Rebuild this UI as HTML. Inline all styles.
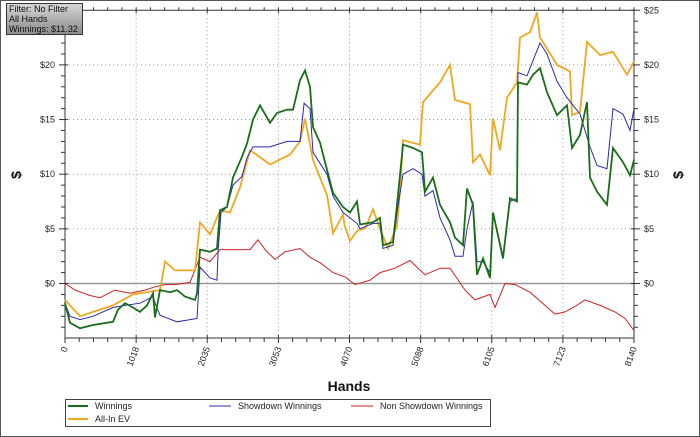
<!DOCTYPE html>
<html><head><meta charset="utf-8"><style>
html,body{margin:0;padding:0;background:#fff;}
svg{display:block;font-family:"Liberation Sans",sans-serif;}
</style></head><body>
<svg id="chart" width="700" height="437" viewBox="0 0 700 437">
<rect x="0.5" y="0.5" width="699" height="436" fill="#fff" stroke="#555"/>
<g id="grid"></g>
<g id="axes"></g>
<g id="series"></g>
<text x="349" y="391" text-anchor="middle" font-size="14" font-weight="bold" fill="#111">Hands</text>
<text transform="translate(21,175) rotate(-90)" text-anchor="middle" font-size="14" font-weight="bold" fill="#111">$</text>
<text transform="translate(683,175) rotate(-90)" text-anchor="middle" font-size="14" font-weight="bold" fill="#111">$</text>
<g>
<rect x="65.5" y="399.5" width="425" height="27" fill="#fff" stroke="#444"/>
<g><line x1="68" y1="406" x2="88" y2="406" stroke="#1a6e1a" stroke-width="2"/><text x="95" y="409" font-size="9" fill="#222">Winnings</text></g>
<g><line x1="209" y1="406" x2="231" y2="406" stroke="#2a2ab0" stroke-width="1"/><text x="238" y="409" font-size="9" fill="#222">Showdown Winnings</text></g>
<g><line x1="351" y1="406" x2="373" y2="406" stroke="#d02020" stroke-width="1"/><text x="380" y="409" font-size="9" fill="#222">Non Showdown Winnings</text></g>
<g><line x1="68" y1="419" x2="88" y2="419" stroke="#f0a820" stroke-width="2"/><text x="95" y="422" font-size="9" fill="#222">All-In EV</text></g>
</g>
<defs><linearGradient id="ig" x1="0" y1="0" x2="0" y2="1"><stop offset="0" stop-color="#d8d8d8"/><stop offset="1" stop-color="#8a8a8a"/></linearGradient></defs>
<g>
<rect x="6.5" y="3.5" width="76" height="31" fill="url(#ig)" stroke="#333"/>
<text x="9" y="12" font-size="9" fill="#111">Filter: No Filter</text>
<text x="9" y="22" font-size="9" fill="#111">All Hands</text>
<text x="9" y="32" font-size="9" fill="#111">Winnings: $11.32</text>
</g>
</svg>
<script>
const xTicks = [0,1018,2035,3053,4070,5088,6105,7123,8140];
const yTicks = [0,5,10,15,20,25];
const yTickLabels = ["$0","$5","$10","$15","$20","$25"];

const winHands = [0,72,215,400,687,758,858,973,1073,1173,1259,1288,1359,1502,1602,1717,1860,1888,1931,2074,2174,2217,2317,2403,2532,2604,2690,2790,2933,3033,3176,3262,3362,3433,3505,3548,3648,3748,3834,3977,4077,4177,4220,4406,4506,4549,4692,4750,4835,4978,5107,5150,5265,5365,5508,5579,5694,5751,5837,5894,5980,6080,6123,6266,6366,6466,6481,6609,6695,6795,6896,7039,7182,7253,7368,7468,7511,7611,7754,7840,7983,8083,8140];
const winVals = [-1.8,-3.6,-4.1,-3.8,-3.5,-2.4,-1.8,-2.2,-2.6,-2.0,-0.9,-3.1,-0.6,-0.8,-0.6,-1.2,-1.5,-0.9,3.1,2.9,3.2,6.7,7.0,9.7,11.6,12.8,15.0,16.3,14.7,15.6,15.9,15.9,18.6,19.5,18.0,14.3,12.9,10.4,8.3,7.0,6.5,7.5,5.4,5.6,6.0,3.5,3.8,7.2,12.7,12.4,12.0,8.4,9.7,7.2,5.6,4.2,3.5,8.7,7.2,0.8,2.3,0.5,6.5,2.3,7.8,7.5,18.4,18.2,19.1,19.7,17.5,15.4,16.3,12.4,13.6,16.6,9.7,8.4,7.2,12.4,11.1,9.9,11.32];

const sdHands = [0,72,215,400,687,858,1073,1259,1300,1359,1602,1888,1931,2074,2174,2190,2232,2317,2403,2532,2604,2690,2933,3176,3362,3420,3505,3548,3648,3748,3834,3977,4077,4177,4220,4406,4506,4549,4692,4750,4835,4978,5107,5150,5265,5365,5508,5579,5694,5751,5837,5894,5980,6080,6123,6266,6366,6466,6481,6609,6795,6896,7039,7182,7368,7511,7611,7754,7840,7983,8083,8140];
const sdVals = [-1.8,-3.0,-3.3,-3.0,-2.2,-2.0,-1.8,-1.2,-2.0,-2.9,-3.5,-3.2,1.5,0.5,0.3,3.0,6.5,7.0,9.0,9.8,11.5,12.5,12.5,13.0,13.0,16.5,16.0,12.0,11.0,10.0,8.0,6.5,6.0,5.5,5.0,5.5,5.5,3.2,3.5,6.5,10.0,10.5,10.0,8.0,8.5,6.0,4.0,2.5,2.5,5.0,7.5,2.0,2.0,1.0,6.5,2.5,7.5,7.8,19.3,19.0,22.0,21.0,18.5,17.0,15.5,12.5,10.8,10.5,16.0,15.5,14.0,16.0];

const nsdHands = [0,143,358,500,715,930,1145,1288,1431,1574,1788,1931,2074,2217,2432,2646,2761,2861,3004,3147,3362,3505,3648,3834,4005,4148,4363,4506,4721,4935,5150,5365,5508,5722,5866,6080,6152,6295,6438,6652,6867,7010,7153,7296,7439,7654,7868,8011,8140];
const nsdVals = [0.0,-0.6,-1.1,-1.3,-0.6,-0.9,-0.6,-0.3,-0.1,-0.1,0.1,2.4,2.0,3.1,3.1,3.1,4.0,3.1,2.2,2.9,3.2,2.4,1.9,1.0,0.6,-0.1,0.3,1.0,1.4,2.1,0.8,1.4,1.4,-0.6,-1.5,-1.0,-2.2,0.0,-0.1,-0.8,-2.0,-2.8,-2.6,-2.1,-1.5,-2.0,-2.6,-3.2,-4.3];

const evHands = [0,215,400,687,973,1359,1430,1573,1860,1931,2074,2217,2360,2503,2646,2933,3219,3362,3433,3548,3748,3834,3977,4000,4077,4177,4300,4406,4506,4620,4750,4800,4835,5079,5122,5365,5508,5579,5794,5837,5937,6080,6123,6223,6323,6466,6509,6652,6752,6795,6896,7039,7225,7253,7368,7468,7654,7840,8040,8140];
const evVals = [-1.5,-3.0,-2.6,-2.0,-1.0,-0.6,2.0,1.2,1.2,5.6,4.5,6.7,6.5,8.8,12.2,10.9,11.8,13.0,15.1,11.3,8.1,4.6,6.3,5.3,3.9,4.8,5.1,6.8,5.0,3.2,5.3,9.0,13.1,12.7,16.6,18.4,20.0,16.8,16.4,11.1,11.8,9.9,15.1,12.2,17.0,18.4,22.5,23.0,24.8,22.5,21.5,20.0,19.4,15.4,15.7,22.1,20.9,21.2,19.1,20.3];

const X0=65, X1=634, Y0=283.5, PXD=10.93, XMAX=8140;
function sx(h){return X0+(h/XMAX)*(X1-X0);}
function sy(v){return Y0-v*PXD;}
const NS='http://www.w3.org/2000/svg';
function mk(tag,attrs,parent){const e=document.createElementNS(NS,tag);for(const k in attrs)e.setAttribute(k,attrs[k]);parent.appendChild(e);return e;}
const grid=document.getElementById('grid'), axes=document.getElementById('axes'), series=document.getElementById('series');
const TOP=sy(25), BOT=338;

xTicks.forEach((t,i)=>{
  const x=sx(t);
  if(i>0&&i<xTicks.length-1){
    const g=mk('line',{x1:x,y1:TOP,x2:x,y2:BOT,stroke:'#999','stroke-dasharray':'1,3'},grid);
    
    
  }
  const lbl=mk('text',{transform:`translate(${x+3},${BOT+10}) rotate(-70)`,'text-anchor':'end','font-size':'9',fill:'#222'},axes);
  lbl.textContent=t;
  
  
  mk('line',{x1:x,y1:BOT-3,x2:x,y2:BOT+5,stroke:'#333'},axes);
  mk('line',{x1:x,y1:TOP-3,x2:x,y2:TOP+3,stroke:'#333'},axes);
  if(i<xTicks.length-1){
    for(let k=1;k<5;k++){const mx=x+(sx(xTicks[i+1])-x)*k/5;
      mk('line',{x1:mx,y1:BOT,x2:mx,y2:BOT+4,stroke:'#333'},axes);
      mk('line',{x1:mx,y1:TOP-3,x2:mx,y2:TOP,stroke:'#333'},axes);}
  }
});
yTicks.forEach((t,i)=>{
  const y=sy(t);
  if(t!==0&&i<yTicks.length-1){
    const g=mk('line',{x1:X0,y1:y,x2:X1,y2:y,stroke:'#999','stroke-dasharray':'1,3'},grid);
    
    
  }
  const l=mk('text',{x:X0-10,y:y+3,'text-anchor':'end','font-size':'9',fill:'#222'},axes);
  l.textContent=yTickLabels[i];
  
  
  const r=mk('text',{x:X1+10,y:y+3,'text-anchor':'start','font-size':'9',fill:'#222'},axes);
  r.textContent=yTickLabels[i];
  
  
  mk('line',{x1:X0-6,y1:y,x2:X0+3,y2:y,stroke:'#333'},axes);
  mk('line',{x1:X1-3,y1:y,x2:X1+6,y2:y,stroke:'#333'},axes);
});
for(let v=-4;v<25;v++){ if(v%5===0)continue; const y=sy(v);
  mk('line',{x1:X0-4,y1:y,x2:X0,y2:y,stroke:'#333'},axes);
  mk('line',{x1:X1,y1:y,x2:X1+4,y2:y,stroke:'#333'},axes);}
const zl=mk('line',{x1:X0,y1:sy(0),x2:X1,y2:sy(0),stroke:'#999','stroke-width':'1.5'},grid);


mk('line',{x1:X0,y1:TOP,x2:X0,y2:BOT,stroke:'#333'},axes);
mk('line',{x1:X1,y1:TOP,x2:X1,y2:BOT,stroke:'#333'},axes);
mk('line',{x1:X0,y1:BOT,x2:X1,y2:BOT,stroke:'#333'},axes);
mk('line',{x1:X0,y1:TOP,x2:X1,y2:TOP,stroke:'#333'},axes);

function linePath(hs,vs){return hs.map((h,i)=>(i?'L':'M')+sx(h).toFixed(1)+','+sy(vs[i]).toFixed(1)).join(' ');}
const p1=mk('path',{d:linePath(nsdHands,nsdVals),fill:'none',stroke:'#d02020','stroke-width':'1'},series);


const p2=mk('path',{d:linePath(evHands,evVals),fill:'none',stroke:'#f0a820','stroke-width':'1.8'},series);


const p3=mk('path',{d:linePath(sdHands,sdVals),fill:'none',stroke:'#2a2ab0','stroke-width':'1'},series);


const p4=mk('path',{d:linePath(winHands,winVals),fill:'none',stroke:'#1a6e1a','stroke-width':'1.8'},series);


</script>
</body></html>
